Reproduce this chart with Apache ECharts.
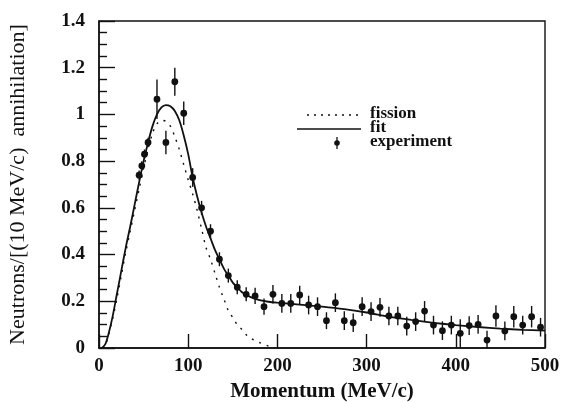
<!DOCTYPE html>
<html>
<head>
<meta charset="utf-8">
<script src="https://cdn.jsdelivr.net/npm/echarts@6/dist/echarts.min.js"></script>
<style>
  html, body { margin: 0; padding: 0; background: #fff; }
  #chart { width: 564px; height: 403px; }
</style>
</head>
<body>
<div id="chart"></div>
<script>
// Measured neutron momentum spectrum (bins of 10 MeV/c)
var expX = [45, 48, 51, 55, 65, 75, 85, 95, 105, 115, 125, 135, 145, 155, 165, 175, 185, 195,
  205, 215, 225, 235, 245, 255, 265, 275, 285, 295, 305, 315, 325, 335, 345, 355, 365, 375,
  385, 395, 405, 415, 425, 435, 445, 455, 465, 475, 485, 495];
var expY = [0.74, 0.78, 0.83, 0.88, 1.065, 0.88, 1.14, 1.005, 0.73, 0.60, 0.50, 0.38, 0.31, 0.26, 0.23, 0.223, 0.177, 0.23,
  0.191, 0.191, 0.227, 0.184, 0.177, 0.117, 0.194, 0.117, 0.108, 0.177, 0.156, 0.174, 0.137, 0.137, 0.094, 0.113, 0.158, 0.098,
  0.074, 0.098, 0.063, 0.096, 0.101, 0.034, 0.137, 0.073, 0.134, 0.098, 0.134, 0.089];
var expErr = [0.02, 0.02, 0.02, 0.02, 0.085, 0.05, 0.06, 0.05, 0.04, 0.03, 0.03, 0.03, 0.03, 0.03, 0.03, 0.035, 0.035, 0.04,
  0.04, 0.04, 0.04, 0.04, 0.04, 0.036, 0.04, 0.04, 0.04, 0.04, 0.04, 0.04, 0.04, 0.04, 0.04, 0.04, 0.043, 0.04,
  0.04, 0.04, 0.06, 0.04, 0.04, 0.04, 0.046, 0.04, 0.046, 0.04, 0.046, 0.04];

// Total fit curve
var fitX = [3, 5, 7.5, 10, 15, 20, 25, 30, 35, 40, 45, 50, 55, 60, 65, 70, 75, 80, 85, 90, 95, 100,
  105, 110, 115, 120, 125, 130, 135, 140, 145, 150, 155, 160, 165, 170, 180, 190, 200, 225, 250,
  275, 300, 325, 350, 375, 400, 425, 450, 475, 500];
var fitY = [0, 0.006, 0.02, 0.05, 0.13, 0.23, 0.33, 0.43, 0.52, 0.615, 0.71, 0.80, 0.88, 0.95, 1.0, 1.03, 1.04, 1.035, 1.015, 0.975, 0.91, 0.83,
  0.73, 0.65, 0.58, 0.52, 0.47, 0.42, 0.38, 0.34, 0.31, 0.28, 0.26, 0.24, 0.228, 0.218, 0.205, 0.198, 0.194, 0.186, 0.177,
  0.166, 0.152, 0.134, 0.12, 0.108, 0.098, 0.09, 0.083, 0.078, 0.074];

// Fission component
var fisX = [3, 5, 7.5, 10, 15, 20, 25, 30, 35, 40, 45, 50, 55, 60, 65, 70, 75, 80, 85, 90, 95, 100,
  105, 110, 115, 120, 125, 130, 135, 140, 145, 150, 155, 160, 165, 170, 180, 190, 195];
var fisY = [0, 0.005, 0.018, 0.045, 0.12, 0.21, 0.31, 0.41, 0.5, 0.59, 0.68, 0.77, 0.85, 0.92, 0.96, 0.975, 0.97, 0.95, 0.905, 0.85, 0.785, 0.72,
  0.66, 0.59, 0.51, 0.43, 0.38, 0.32, 0.26, 0.21, 0.16, 0.13, 0.10, 0.08, 0.057, 0.042, 0.023, 0.008, 0.002];

var xTicks = [0, 100, 200, 300, 400, 500];
var yTicks = [0, 0.2, 0.4, 0.6, 0.8, 1, 1.2, 1.4];

function pairs(xs, ys) { return xs.map(function (x, i) { return [x, ys[i]]; }); }

var serif = 'Liberation Serif';
var ink = '#111';
var chart = echarts.init(document.getElementById('chart'));

chart.setOption({
  animation: false,
  backgroundColor: '#ffffff',
  grid: {
    left: 99, right: 19, top: 21, bottom: 55, containLabel: false, outerBoundsMode: 'none',
    show: true, borderColor: ink, borderWidth: 1.4
  },
  xAxis: {
    type: 'value', min: xTicks[0], max: xTicks[xTicks.length - 1], interval: 100,
    name: 'Momentum (MeV/c)', nameLocation: 'middle', nameGap: 32,
    nameTextStyle: { fontFamily: serif, fontSize: 21, fontWeight: 'bold', color: ink },
    axisLine: { lineStyle: { color: ink, width: 1.5 } },
    axisTick: { inside: true, length: 14, lineStyle: { color: ink, width: 1.4 } },
    axisLabel: { fontFamily: serif, fontSize: 19, fontWeight: 'bold', color: ink, margin: 9 },
    splitLine: { show: false }
  },
  yAxis: {
    type: 'value', min: yTicks[0], max: yTicks[yTicks.length - 1], interval: 0.2,
    name: 'Neutrons/[(10 MeV/c)  annihilation]', nameLocation: 'middle', nameGap: 70,
    nameTextStyle: { fontFamily: serif, fontSize: 22, color: ink },
    axisLine: { lineStyle: { color: ink, width: 1.5 } },
    axisTick: { inside: true, length: 16, lineStyle: { color: ink, width: 1.4 } },
    minorTick: { show: true, splitNumber: 4, length: 8, lineStyle: { color: ink, width: 1.4 } },
    axisLabel: { fontFamily: serif, fontSize: 19, fontWeight: 'bold', color: ink, margin: 14 },
    splitLine: { show: false }, minorSplitLine: { show: false }
  },
  graphic: [
    { type: 'line', shape: { x1: 307, y1: 115, x2: 358, y2: 115 }, style: { stroke: ink, lineWidth: 1.3, lineDash: [2, 5] } },
    { type: 'text', left: 370, top: 105, style: { text: 'fission', font: 'bold 17px "Liberation Serif"', fill: ink } },
    { type: 'line', shape: { x1: 297, y1: 129, x2: 361, y2: 129 }, style: { stroke: ink, lineWidth: 1.6 } },
    { type: 'text', left: 370, top: 119, style: { text: 'fit', font: 'bold 17px "Liberation Serif"', fill: ink } },
    { type: 'line', shape: { x1: 337, y1: 137, x2: 337, y2: 149 }, style: { stroke: ink, lineWidth: 1.3 } },
    { type: 'circle', shape: { cx: 337, cy: 143, r: 2.8 }, style: { fill: ink } },
    { type: 'text', left: 370, top: 133, style: { text: 'experiment', font: 'bold 17px "Liberation Serif"', fill: ink } }
  ],
  series: [
    {
      type: 'line', data: pairs(fisX, fisY), smooth: 0.3, showSymbol: false, clip: true,
      lineStyle: { color: ink, width: 1.4, type: [2, 6] }
    },
    {
      type: 'line', data: pairs(fitX, fitY), smooth: 0.3, showSymbol: false, clip: true,
      lineStyle: { color: ink, width: 1.8 }
    },
    {
      type: 'custom',
      data: expX.map(function (x, i) { return [x, expY[i], expErr[i]]; }),
      renderItem: function (params, api) {
        var x = api.value(0), y = api.value(1), e = api.value(2);
        var lo = api.coord([x, Math.max(0, y - e)]);
        var hi = api.coord([x, y + e]);
        var c = api.coord([x, y]);
        return {
          type: 'group',
          children: [
            { type: 'line', shape: { x1: lo[0], y1: lo[1], x2: hi[0], y2: hi[1] }, style: { stroke: ink, lineWidth: 1.4 } },
            { type: 'circle', shape: { cx: c[0], cy: c[1], r: 3.4 }, style: { fill: ink } }
          ]
        };
      }
    }
  ]
});
</script>
</body>
</html>
